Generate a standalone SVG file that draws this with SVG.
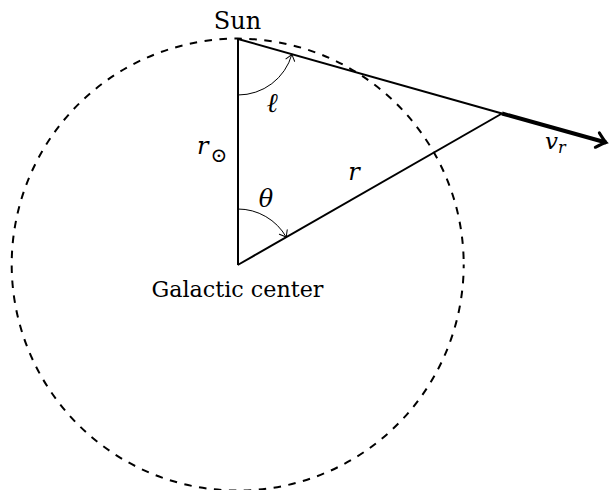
<svg xmlns="http://www.w3.org/2000/svg" width="611" height="490" viewBox="0 0 611 490">
<defs>
<marker id="to" markerUnits="userSpaceOnUse" markerWidth="14" markerHeight="14" viewBox="-8 -7 10 14" refX="0" refY="0" orient="auto">
<path d="M -6 -4.5 Q -1.5 -1 0 0 Q -1.5 1 -6 4.5" fill="none" stroke="#000" stroke-width="1" stroke-linecap="round"/>
</marker>
<marker id="toThick" markerUnits="userSpaceOnUse" markerWidth="24" markerHeight="24" viewBox="-14 -12 18 24" refX="0" refY="0" orient="auto">
<path d="M -9 -7.5 Q -2.5 -1.5 0 0 Q -2.5 1.5 -9 7.5" fill="none" stroke="#000" stroke-width="3" stroke-linecap="round"/>
</marker>
</defs>
<style>
.main{stroke:#000;stroke-width:2;fill:none;}
.arc{stroke:#000;stroke-width:1;fill:none;}
text{font-family:"DejaVu Serif","Liberation Serif",serif;fill:#000;}
</style>
<rect width="611" height="490" fill="#fff"/>
<g id="orbit">
<circle cx="237.7" cy="264.6" r="226" fill="none" stroke="#000" stroke-width="2" stroke-dasharray="7.5 7.5" stroke-dashoffset="3.75"/>
</g>
<g id="connectors">
<line class="main" x1="238" y1="39" x2="238" y2="265"/>
<line class="main" x1="238" y1="39" x2="502" y2="113.5"/>
<line class="main" x1="237.7" y1="265" x2="502" y2="113.5"/>
<line x1="502" y1="113.5" x2="606" y2="142.5" stroke="#000" stroke-width="4" marker-end="url(#toThick)"/>
<path class="arc" d="M238 95 A56 56 0 0 0 291.9 54.3" marker-end="url(#to)"/>
<path class="arc" d="M237.7 209 A56 56 0 0 1 286.3 237.2" marker-end="url(#to)"/>
</g>
<g id="sun">
<text x="237.5" y="29" font-size="24" text-anchor="middle">Sun</text>
</g>
<g id="galactic-center">
<text x="237.5" y="297" font-size="23" text-anchor="middle" textLength="172" lengthAdjust="spacingAndGlyphs">Galactic center</text>
</g>
<g id="labels" font-style="italic">
<text x="272" y="112" font-size="27" text-anchor="middle">ℓ</text>
<text x="197" y="154" font-size="24">r</text>
<text x="219" y="162" font-size="20" font-style="normal" text-anchor="middle">⊙</text>
<text x="266" y="207" font-size="24" text-anchor="middle">θ</text>
<text x="354" y="180" font-size="24" text-anchor="middle">r</text>
<text x="545" y="149" font-size="23">v</text>
<text x="558" y="153" font-size="16">r</text>
</g>
</svg>
